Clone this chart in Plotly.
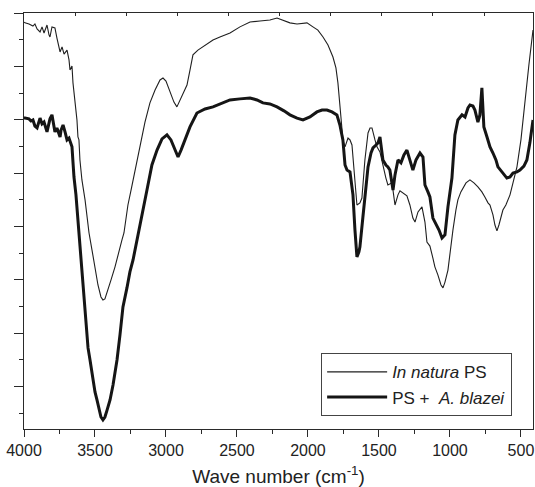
import plotly.graph_objects as go

# Wavenumber (cm-1) and transmittance (a.u.)
wn_natura = [4000, 3993, 3965, 3937, 3923, 3908, 3887, 3873, 3859, 3838, 3824, 3817, 3803, 3782,
             3768, 3746, 3732, 3718, 3697, 3683, 3676, 3662, 3655, 3641, 3627, 3620, 3613, 3606,
             3592, 3570, 3556, 3542, 3521, 3500, 3479, 3458, 3444, 3430, 3408, 3387, 3359, 3331,
             3310, 3296, 3282, 3268, 3246, 3218, 3183, 3148, 3113, 3077, 3042, 3021, 3000, 2972,
             2944, 2923, 2901, 2873, 2852, 2831, 2810, 2775, 2725, 2669, 2620, 2549, 2479, 2408,
             2338, 2268, 2218, 2176, 2127, 2077, 2007, 1965, 1930, 1894, 1859, 1824, 1803, 1789,
             1775, 1761, 1754, 1739, 1718, 1704, 1690, 1669, 1655, 1634, 1620, 1599, 1577, 1563,
             1549, 1528, 1514, 1493, 1472, 1451, 1437, 1408, 1387, 1366, 1352, 1331, 1303, 1282,
             1261, 1246, 1225, 1197, 1176, 1162, 1141, 1120, 1106, 1085, 1063, 1049, 1035, 1014,
             1000, 979, 958, 944, 923, 908, 887, 859, 831, 803, 775, 754, 732, 718, 697, 683, 669,
             655, 641, 627, 606, 577, 556, 528, 500, 472, 444, 415]
t_natura = [14.67, 14.64, 14.60, 14.52, 14.60, 14.41, 14.30, 14.49, 14.26, 14.56, 14.19, 14.11,
            14.49, 14.45, 14.07, 13.55, 13.74, 13.47, 13.62, 13.25, 12.87, 13.02, 12.39, 11.75,
            11.00, 10.36, 10.25, 9.50, 8.75, 8.00, 7.32, 6.76, 6.12, 5.49, 4.81, 4.36, 4.25, 4.29,
            4.62, 5.00, 5.49, 6.12, 6.50, 6.76, 7.25, 7.81, 8.37, 9.12, 10.06, 10.92, 11.64,
            12.12, 12.50, 12.57, 12.46, 12.05, 11.67, 11.49, 11.75, 12.05, 12.31, 12.87, 13.44,
            13.62, 13.81, 14.00, 14.11, 14.26, 14.49, 14.67, 14.71, 14.75, 14.82, 14.75, 14.64,
            14.60, 14.64, 14.49, 14.37, 14.11, 13.81, 13.36, 12.95, 12.39, 11.37, 10.70, 10.25,
            9.99, 10.32, 10.25, 10.06, 8.49, 7.81, 7.89, 8.07, 9.50, 10.51, 10.70, 10.70, 10.25,
            9.99, 9.80, 9.24, 8.82, 8.56, 8.64, 7.81, 8.19, 8.34, 8.26, 8.15, 7.81, 7.32, 7.17,
            7.55, 7.74, 7.17, 6.42, 6.27, 5.82, 5.49, 5.19, 4.81, 4.70, 4.92, 5.37, 6.05, 6.87,
            7.62, 8.00, 8.30, 8.45, 8.64, 8.75, 8.64, 8.49, 8.30, 8.11, 7.89, 7.81, 7.44, 7.06,
            6.84, 7.06, 7.36, 7.62, 7.81, 8.19, 8.64, 9.24, 10.25, 11.75, 13.06, 14.37]

wn_blazei = [4000, 3993, 3965, 3951, 3937, 3923, 3908, 3894, 3887, 3873, 3859, 3838, 3824, 3817,
             3803, 3796, 3782, 3768, 3746, 3739, 3725, 3711, 3697, 3683, 3662, 3655, 3648, 3634,
             3620, 3606, 3592, 3570, 3563, 3549, 3535, 3521, 3500, 3486, 3472, 3458, 3444, 3430,
             3415, 3394, 3373, 3345, 3324, 3303, 3275, 3254, 3232, 3197, 3162, 3134, 3099, 3063,
             3028, 2993, 2965, 2937, 2915, 2894, 2866, 2831, 2782, 2725, 2669, 2606, 2549, 2479,
             2408, 2359, 2317, 2268, 2218, 2169, 2127, 2077, 2035, 1986, 1937, 1901, 1866, 1831,
             1796, 1775, 1754, 1739, 1725, 1704, 1683, 1669, 1655, 1641, 1634, 1613, 1592, 1577,
             1556, 1542, 1521, 1507, 1493, 1479, 1472, 1451, 1437, 1423, 1408, 1401, 1387, 1366,
             1345, 1324, 1303, 1282, 1261, 1239, 1211, 1190, 1176, 1155, 1141, 1120, 1099, 1077,
             1056, 1035, 1014, 1000, 986, 965, 944, 915, 894, 873, 859, 838, 824, 803, 789, 775,
             768, 761, 739, 718, 697, 676, 662, 627, 599, 577, 556, 528, 507, 479, 458, 437, 415]
t_blazei = [11.07, 11.07, 11.04, 10.96, 11.00, 10.77, 10.70, 10.96, 11.07, 10.85, 10.92, 10.55,
            10.85, 11.04, 11.19, 11.00, 10.55, 10.70, 10.36, 10.62, 10.81, 10.55, 10.25, 10.32,
            9.99, 9.42, 8.86, 8.19, 7.25, 6.12, 5.19, 3.61, 3.12, 2.45, 2.00, 1.44, 0.80, 0.50,
            0.12, -0.14, -0.25, -0.14, 0.12, 0.50, 1.06, 2.00, 2.94, 3.99, 4.70, 5.30, 5.75, 6.65,
            7.55, 8.37, 9.31, 9.87, 10.29, 10.44, 10.25, 9.87, 9.61, 9.87, 10.25, 10.74, 11.26,
            11.41, 11.49, 11.64, 11.75, 11.79, 11.82, 11.75, 11.64, 11.60, 11.49, 11.34, 11.19,
            11.07, 11.00, 11.11, 11.30, 11.37, 11.37, 11.30, 11.19, 10.81, 10.25, 9.31, 9.12,
            9.05, 8.19, 6.87, 5.86, 6.05, 6.24, 7.36, 8.56, 9.24, 9.76, 9.95, 10.06, 10.14, 10.36,
            9.87, 9.50, 9.31, 9.24, 9.12, 8.56, 8.37, 8.94, 9.50, 9.39, 9.69, 9.87, 9.50, 9.12,
            9.50, 9.76, 9.61, 8.56, 8.30, 8.11, 7.32, 7.10, 6.87, 6.57, 6.69, 7.74, 8.30, 8.82,
            10.44, 11.00, 11.19, 11.11, 11.45, 11.56, 11.52, 11.37, 10.92, 11.19, 12.20, 11.37,
            10.74, 10.36, 9.99, 9.76, 9.50, 9.24, 9.01, 8.82, 8.86, 9.01, 9.05, 9.12, 9.27, 9.50,
            10.14, 11.00]

x_major = [4000, 3500, 3000, 2500, 2000, 1500, 1000, 500]
x_labels = ["4000", "3500", "3000", "2500", "2000", "1500", "1000", "500"]
top_ticks = [3640, 3280, 2920, 2560, 2200, 1840, 1480, 1120, 760]

FONT = "Liberation Sans, Arial, sans-serif"
AX = "#2a2a2a"

fig = go.Figure()
fig.add_trace(go.Scatter(x=wn_natura, y=t_natura, mode="lines",
                         name="<i>In natura</i> PS",
                         line=dict(color="#1f1f1f", width=1.1)))
fig.add_trace(go.Scatter(x=wn_blazei, y=t_blazei, mode="lines",
                         name="PS +  <i>A. blazei</i>",
                         line=dict(color="#151515", width=3)))
# invisible helper trace for the top tick axis
fig.add_trace(go.Scatter(x=[wn_natura[0]], y=[t_natura[0]], xaxis="x2", mode="lines",
                         showlegend=False, hoverinfo="skip",
                         line=dict(color="rgba(0,0,0,0)")))

fig.update_layout(
    width=535, height=487,
    margin=dict(l=24, r=2, t=13, b=58),
    paper_bgcolor="white", plot_bgcolor="white",
    font=dict(family=FONT, size=16, color="#222"),
    showlegend=True,
    legend=dict(x=0.959, xanchor="right", y=0.182, yanchor="top",
                bgcolor="white", bordercolor="#444", borderwidth=1,
                font=dict(family=FONT, size=17, color="#222"),
                tracegroupgap=0, itemwidth=60),
    xaxis=dict(range=[4000, 415], showline=True, linecolor=AX, linewidth=1, mirror=True,
               showgrid=False, zeroline=False,
               tickmode="array", tickvals=x_major, ticktext=x_labels,
               ticks="outside", ticklen=7, tickcolor=AX, tickwidth=1,
               tickfont=dict(family=FONT, size=16, color="#222"),
               minor=dict(tickmode="linear", tick0=4000, dtick=250, ticks="outside",
                          ticklen=4, tickcolor=AX, tickwidth=1, showgrid=False),
               title=dict(text="Wave number (cm<sup>-1</sup>)",
                          font=dict(family=FONT, size=19, color="#222"), standoff=12)),
    xaxis2=dict(range=[4000, 415], overlaying="x", side="top", anchor="y",
                showline=False, showgrid=False, zeroline=False,
                tickmode="array", tickvals=top_ticks, showticklabels=False,
                ticks="inside", ticklen=3, tickcolor=AX, tickwidth=1),
    yaxis=dict(range=[-0.59, 15.01], showline=True, linecolor=AX, linewidth=1, mirror=True,
               showgrid=False, zeroline=False, showticklabels=False,
               tickmode="linear", tick0=1, dtick=2,
               ticks="outside", ticklen=9, tickcolor=AX, tickwidth=1,
               minor=dict(tickmode="linear", tick0=0, dtick=2, ticks="outside",
                          ticklen=4, tickcolor=AX, tickwidth=1, showgrid=False)),
)

fig.write_html("out.html", config={"displayModeBar": False},
               post_script="document.body.style.margin='0';document.body.style.overflow='hidden';")
